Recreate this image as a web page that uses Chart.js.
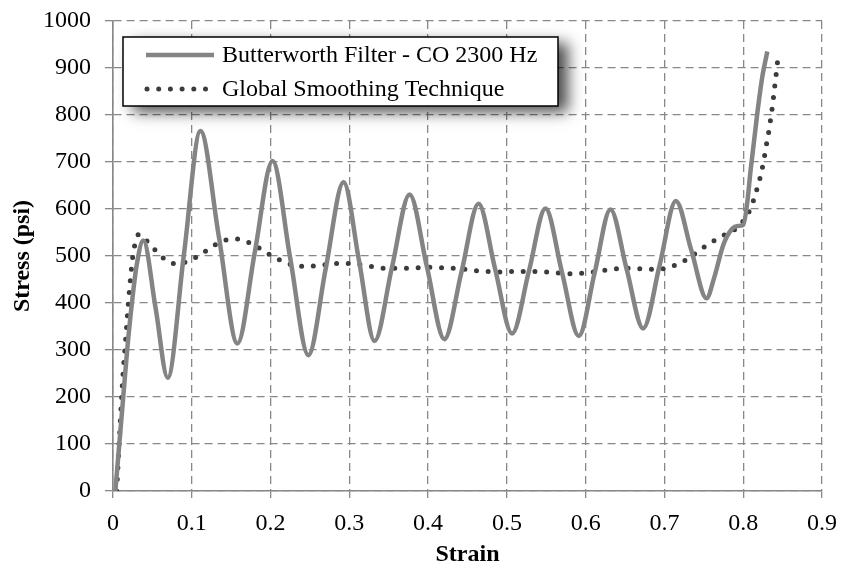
<!DOCTYPE html>
<html>
<head>
<meta charset="utf-8">
<script src="https://cdn.jsdelivr.net/npm/chart.js@4/dist/chart.umd.min.js"></script>
<style>
  html, body { margin: 0; padding: 0; background: #fff; }
  #wrap { width: 841px; height: 569px; }
</style>
</head>
<body>
<div id="wrap"><canvas id="stressChart" width="841" height="569"></canvas></div>
<script>
// Butterworth filter (cut-off 2300 Hz)
const bwStrain = [0.003, 0.008, 0.013, 0.018, 0.024, 0.030, 0.0385, 0.054, 0.0695, 0.090, 0.111, 0.1345, 0.158,
    0.180, 0.2025, 0.225, 0.248, 0.270, 0.2927, 0.3125, 0.332, 0.354, 0.3765, 0.3985, 0.4206, 0.4425, 0.464,
    0.485, 0.5066, 0.528, 0.549, 0.570, 0.5913, 0.6115, 0.6315, 0.652, 0.673, 0.694, 0.7145, 0.734, 0.7535,
    0.7628, 0.775, 0.786, 0.793, 0.800, 0.805, 0.8094, 0.8179, 0.8243, 0.8306];
const bwStress = [0, 100, 200, 300, 400, 480, 533, 390, 241, 503, 766, 540, 314,
    508, 702, 495, 289, 473, 657, 488, 319, 475, 631, 477, 323, 467, 611,
    473, 335, 468, 601, 465, 330, 465, 599, 472, 346, 481, 617, 513, 410,
    452, 525, 558, 564, 566, 612, 683, 804, 882, 935];

// Global smoothing technique
const gsStrain = [0.0047, 0.0085, 0.0127, 0.0161, 0.0195, 0.022, 0.025, 0.0276, 0.0327, 0.0436, 0.0534, 0.0644,
    0.0771, 0.0915, 0.105, 0.1173, 0.13, 0.1436, 0.1576, 0.172, 0.1846, 0.2, 0.2135, 0.2278, 0.2418, 0.2567,
    0.2715, 0.2863, 0.3011, 0.316, 0.3307, 0.3456, 0.3605, 0.3752, 0.3892, 0.4015, 0.4164, 0.4311, 0.4451,
    0.46, 0.4748, 0.4896, 0.5044, 0.5193, 0.5341, 0.5489, 0.5638, 0.5785, 0.5934, 0.6019, 0.6166, 0.6306,
    0.6455, 0.6604, 0.6751, 0.69, 0.7043, 0.7183, 0.7319, 0.7437, 0.7557, 0.7684, 0.7811, 0.7938, 0.8022,
    0.8094, 0.8145, 0.8187, 0.8225, 0.8256, 0.8281, 0.8306, 0.8332, 0.8352, 0.8374, 0.839, 0.8408, 0.8425, 0.8441];
const gsStress = [0, 124, 248, 323, 399, 448, 498, 523, 546, 531, 513, 495,
    484, 487, 497, 510, 524, 534, 536, 529, 518, 502, 490, 481, 478, 479,
    482, 484, 484, 481, 477, 474, 474, 474, 475, 476, 475, 474, 472,
    469, 467, 466, 467, 467, 467, 466, 464, 462, 463, 464, 468, 471,
    474, 474, 472, 472, 475, 484, 496, 511, 525, 538, 549, 562, 580,
    601, 626, 650, 674, 699, 723, 748, 772, 797, 822, 847, 872, 897, 922];

const seriesLabels = ["Butterworth Filter - CO 2300 Hz", "Global Smoothing Technique"];
const xTicks = [0, 0.1, 0.2, 0.3, 0.4, 0.5, 0.6, 0.7, 0.8, 0.9];
const yTicks = [0, 100, 200, 300, 400, 500, 600, 700, 800, 900, 1000];

const toPoints = (xs, ys) => xs.map((x, i) => ({ x: x, y: ys[i] }));

const FONT = "'Liberation Serif', 'Times New Roman', serif";
const GRID = "#888888";

// legend box drawn inside the plot, with a soft drop shadow
const boxLegend = {
    id: "boxLegend",
    afterDraw(chart) {
        const ctx = chart.ctx;
        const x0 = 123, y0 = 37, w = 435, h = 69;
        ctx.save();
        ctx.shadowColor = "rgba(0,0,0,0.7)";
        ctx.shadowBlur = 14;
        ctx.shadowOffsetX = 10;
        ctx.shadowOffsetY = 6;
        ctx.fillStyle = "#fff";
        ctx.fillRect(x0, y0, w, h);
        ctx.restore();

        ctx.save();
        ctx.strokeStyle = "#000";
        ctx.lineWidth = 1.5;
        ctx.strokeRect(x0, y0, w, h);

        const rows = [55, 89];
        chart.data.datasets.forEach((ds, i) => {
            const y = rows[i];
            ctx.beginPath();
            ctx.strokeStyle = ds.borderColor;
            ctx.lineWidth = ds.borderWidth;
            ctx.lineCap = ds.borderCapStyle || "butt";
            ctx.setLineDash(ds.borderDash || []);
            ctx.moveTo(i === 0 ? 146 : 147, y);
            ctx.lineTo(i === 0 ? 214 : 207, y);
            ctx.stroke();
            ctx.setLineDash([]);
            ctx.fillStyle = "#000";
            ctx.font = "24px " + FONT;
            ctx.textBaseline = "middle";
            ctx.fillText(ds.label, 222, y + 1);
        });
        ctx.restore();
    }
};

const ctx = document.getElementById("stressChart").getContext("2d");
new Chart(ctx, {
    type: "line",
    data: {
        datasets: [{
            label: seriesLabels[0],
            data: toPoints(bwStrain, bwStress),
            borderColor: "#848484",
            borderWidth: 4.5,
            pointRadius: 0,
            cubicInterpolationMode: "monotone",
            fill: false
        }, {
            label: seriesLabels[1],
            data: toPoints(gsStrain, gsStress),
            borderColor: "#3c3c3c",
            borderWidth: 5,
            borderDash: [0, 11.7],
            borderCapStyle: "round",
            pointRadius: 0,
            cubicInterpolationMode: "monotone",
            fill: false
        }]
    },
    options: {
        responsive: false,
        animation: false,
        layout: { padding: { left: 0, right: 19, top: 21, bottom: 0 } },
        plugins: {
            legend: { display: false },
            tooltip: { enabled: false }
        },
        scales: {
            x: {
                type: "linear",
                min: 0,
                max: 0.9,
                afterBuildTicks: s => { s.ticks = xTicks.map(v => ({ value: v })); },
                // fixed height, and no extra room for the end labels
                afterFit: s => { s.height = 78; s.paddingLeft = 0; s.paddingRight = 0; },
                ticks: {
                    font: { family: FONT, size: 24 },
                    color: "#000",
                    padding: 11,
                    maxRotation: 0,
                    callback: v => String(v)
                },
                grid: {
                    color: GRID,
                    lineWidth: 1.3,
                    tickColor: GRID,
                    tickLength: 7,
                    tickBorderDash: []
                },
                // in v4 border.dash dashes the grid lines; the axis line itself stays solid
                border: { display: true, color: GRID, width: 1.6, dash: [8, 5] },
                title: {
                    display: true,
                    text: "Strain",
                    font: { family: FONT, size: 24, weight: "bold" },
                    color: "#000",
                    padding: { top: 0, bottom: 0 }
                }
            },
            y: {
                type: "linear",
                min: 0,
                max: 1000,
                afterBuildTicks: s => { s.ticks = yTicks.map(v => ({ value: v })); },
                afterFit: s => { s.width = 113; s.paddingTop = 0; s.paddingBottom = 0; },
                ticks: {
                    font: { family: FONT, size: 24 },
                    color: "#000",
                    padding: 14,
                    callback: v => String(v)
                },
                grid: {
                    color: GRID,
                    lineWidth: 1.3,
                    tickColor: GRID,
                    tickLength: 8,
                    tickBorderDash: []
                },
                border: { display: true, color: GRID, width: 1.6, dash: [8, 5] },
                title: {
                    display: true,
                    text: "Stress (psi)",
                    font: { family: FONT, size: 24, weight: "bold" },
                    color: "#000",
                    padding: { top: 8, bottom: 0 }
                }
            }
        }
    },
    plugins: [boxLegend]
});
</script>
</body>
</html>
